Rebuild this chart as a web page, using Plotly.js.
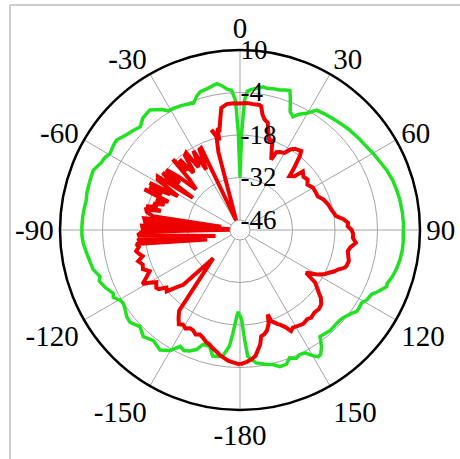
<!DOCTYPE html>
<html>
<head>
<meta charset="utf-8">
<script src="https://cdn.plot.ly/plotly-3.0.1.min.js"></script>
<style>html,body{margin:0;padding:0;background:#fff;}</style>
</head>
<body>
<div id="chart" style="width:460px;height:459px;"></div>
<script>
// Angular tick positions and labels
const angleTickVals = [0, 30, 60, 90, 120, 150, 180, 210, 240, 270, 300, 330];
const angleTickText = ["0", "30", "60", "90", "120", "150", "-180", "-150", "-120", "-90", "-60", "-30"];
// Radial ticks (dB)
const radialTickVals = [-46, -32, -18, -4, 10];
const radialTickText = ["-46", "-32", "-18", "-4", "10"];

// Green series (angle in degrees, level in dB)
const greenTheta = [-180,-178.5,-176,-174.8,-172.2,-170,-167.8,-165.3,-162,-160,-157.4,-155,-152.8,-150,-146.3,-142,-137.8,-134,-130,-127.4,-124,-122.1,-120.3,-118,-116.6,-113,-110,-108.4,-105,-102,-98.6,-95,-92,-88.8,-85,-82,-79,-76.5,-73,-70,-67.8,-64,-62,-59.5,-56,-53.9,-50,-47,-44,-41,-38,-36.9,-33,-31,-28.7,-25,-22,-20,-18,-16,-13,-11,-9,-7,-5,-3.5,-2,-1,0,1,2,3,4.1,6,9.2,10.7,13,15.9,18,19.7,21,23,25.1,27,29.7,32.6,36,40,43.1,47,50,53,56.7,60,64,67.8,72,76,79.4,84,88,91.2,94,97,100.6,104,107,110,111.1,114,116,118.9,121,123,125,127,130,132,135,138,141,143.1,145,147,148.3,150,152,154.5,156.2,158.8,161,163.7,166.3,168,170,173,175,176.5,177.6,179,180];
const greenR = [-21,-22.3,-15,-10.9,-7.3,-7.0,-6.8,-9.7,-9.6,-7.4,-6.1,-5.5,-6.2,-3.5,-1.8,-3.0,-1.9,-3.5,-2.0,-2.3,-3.5,-3.9,-3.5,-2.0,-2.6,-1.0,0.0,-0.7,0.8,1.2,1.8,2.5,2.8,2.8,2.7,2.5,2.3,2.6,2.7,2.8,2.9,1.5,1.2,0.4,0.9,1.0,-0.5,-1.2,-2.0,-0.5,0.0,0.1,-2.0,-3.5,-3.6,-4.0,-4.5,-4.8,-3.0,-1.9,-1.5,-1.0,-0.5,-1.5,-2.8,-3.2,-6.5,-17,-32,-17,-6.5,-3.5,-3.0,-2.5,-1.5,-1.8,-1.5,-1.3,-0.8,-0.5,-3.0,-7.0,-8.1,-6.5,-5.0,-2.4,-2.0,-1.5,-1.1,-0.5,-0.2,0.2,0.6,1.3,2.0,2.9,3.6,4.0,4.3,4.5,4.6,4.5,4.6,4.6,4.3,3.8,3.2,2.3,2.5,0.5,-1.0,-1.6,-2.6,-2.4,-2.4,-3.5,-4.6,-5.0,-5.0,-4.8,-5.2,-5.4,-2.5,-0.5,-0.2,-1.5,-3.5,-3.8,-3.1,-4.1,-2.5,-2.4,-3.7,-4.0,-4.5,-5.2,-6.5,-7.7,-13.2,-20,-21];

// Red series, in drawing order (angle in degrees, level in dB)
const redTheta = [-180,-177,-175,-173,-171,-169,-167,-165,-163,-161,-159,-157,-155,-153,-151,-149,-147,-145,-143,-136.5,-134,-132,-130,-128,-126,-124.6,-122,-120.3,-119,-117,-114.5,-112,-109.5,-107,-105,-103,-101.5,-99.5,-97.7,-106,-96,-94,-104,-93,-91,-89,-89.5,-87.5,-85,-85.5,-83,-80,-81,-79,-77.7,-76.5,-75.8,-74.5,-73,-71.5,-70,-68.5,-67,-65.5,-64.2,-63,-62.5,-61.5,-60,-58.5,-57,-55.7,-54.5,-53.5,-52,-50.7,-49,-47.2,-45,-43.6,-42.3,-41,-40.6,-39.3,-38,-36.5,-34.9,-33.5,-32,-30.5,-29.2,-26.7,-25.3,-22,-15.5,-14,-16,-13,-12.5,-11.5,-10,-8.7,-6,-3,0,3,6,8.8,9.7,11,12.5,14.5,16,18.7,19.9,21,23.9,25,27,30,32,34,37.8,39,41,42.6,45.4,47,50,53.3,56,60,64,66.5,70,74,77.3,81.8,84,86.2,88,90,92,94,96.3,99,101.1,104,106,108.8,109.9,112,113.6,116,117.8,120,122.3,123,125,128.2,130,132.5,135,138,140.9,143,146,149,151.6,153.2,155,157.3,158.2,160,161.1,161.8,163,165,167,168.7,170,173,175,177,180];
const redR = [-5.0,-5.6,-6.0,-6.8,-7.5,-8.5,-9.3,-10.3,-10.8,-11.8,-12.4,-11.9,-12.8,-13.0,-12.2,-12.9,-12.3,-14.0,-16.0,-36.5,-23.3,-21.0,-17.8,-18.5,-16.2,-15.8,-16.8,-14.8,-12.6,-14.6,-16.6,-14.8,-15.3,-14.2,-16.1,-15.0,-14.4,-15.5,-14.8,-38,-15.5,-16.5,-41,-15.5,-17.0,-46,-17.3,-17.0,-46,-18.0,-17.5,-43,-20.2,-18.0,-17.7,-22.5,-17.4,-21.0,-19.5,-23.0,-19.9,-24.0,-15.1,-21.0,-16.2,-23.5,-15.7,-26.0,-22.5,-17.5,-17.0,-30.5,-20.0,-17.6,-24.1,-17.9,-22.5,-29.6,-25.8,-17.2,-23.0,-22.0,-18.7,-25.0,-24.0,-18.8,-18.3,-24.5,-23.0,-19.0,-26.5,-19.6,-19.4,-46,-22.7,-17.0,-15.0,-19.0,-15.0,-15.5,-12.0,-8.6,-7.6,-7.5,-7.6,-7.4,-7.6,-7.6,-7.9,-10.5,-12.0,-12.8,-15.5,-19.0,-17.6,-20.0,-23.9,-21.0,-20.5,-20.0,-18.0,-17.0,-16.4,-18.0,-22.0,-25.2,-24.1,-21.0,-22.0,-21.5,-22.5,-21.5,-21.4,-21.4,-20.0,-19.0,-18.5,-17.3,-15.0,-13.6,-13.8,-12.5,-12.0,-12.0,-10.9,-12.5,-13.1,-12.5,-12.0,-12.3,-12.7,-14.5,-15.3,-17.0,-18.0,-20.0,-22.9,-23.3,-19.0,-16.4,-14.5,-13.0,-12.5,-12.7,-12.1,-12.5,-12.0,-12.4,-12.7,-12.0,-14.0,-15.6,-15.9,-17.0,-17.6,-20.0,-17.0,-15.0,-14.0,-13.6,-11.0,-7.5,-6.5,-5.8,-5.0];

const traces = [
  {type: 'scatterpolar', mode: 'lines', theta: greenTheta, r: greenR,
   line: {color: '#22e022', width: 3.5}, hoverinfo: 'skip'},
  {type: 'scatterpolar', mode: 'lines', theta: redTheta, r: redR,
   line: {color: '#ee0000', width: 4}, hoverinfo: 'skip'}
];

const W = 460, H = 459, cx = 240, cy = 230, R = 180;
const layout = {
  width: W, height: H,
  margin: {l: 0, r: 0, t: 0, b: 0},
  paper_bgcolor: '#ffffff',
  showlegend: false,
  font: {family: '"Liberation Serif", "Times New Roman", serif', size: 28, color: '#000'},
  polar: {
    domain: {x: [(cx - R) / W, (cx + R) / W], y: [(H - cy - R) / H, (H - cy + R) / H]},
    hole: 10 / 180,
    bgcolor: '#ffffff',
    angularaxis: {
      rotation: 90, direction: 'clockwise',
      tickmode: 'array', tickvals: angleTickVals, ticktext: angleTickText,
      showline: true, linecolor: '#a3a3a3', linewidth: 1,
      showgrid: true, gridcolor: '#a3a3a3', gridwidth: 1,
      ticks: '', tickfont: {size: 29, color: '#000'}
    },
    radialaxis: {
      range: [-46, 10], tickmode: 'array', tickvals: radialTickVals, ticktext: radialTickText,
      angle: 90, side: 'clockwise', tickangle: 90,
      showline: false, showgrid: true, gridcolor: '#a3a3a3', gridwidth: 1,
      ticks: '', tickfont: {size: 27, color: '#000'}
    }
  },
  shapes: [
    {type: 'line', xref: 'paper', yref: 'paper', x0: 10 / W, x1: 10 / W, y0: 0, y1: 1 - 5 / H, line: {color: '#cccccc', width: 2}},
    {type: 'line', xref: 'paper', yref: 'paper', x0: 10 / W, x1: 1, y0: 1 - 5 / H, y1: 1 - 5 / H, line: {color: '#cccccc', width: 2}},
    {type: 'circle', xref: 'paper', yref: 'paper', layer: 'above',
     x0: (cx - R) / W, x1: (cx + R) / W, y0: (H - cy - R) / H, y1: (H - cy + R) / H,
     line: {color: '#000000', width: 2.5}}
  ]
};

Plotly.newPlot('chart', traces, layout, {staticPlot: true, displayModeBar: false});
</script>
</body>
</html>
